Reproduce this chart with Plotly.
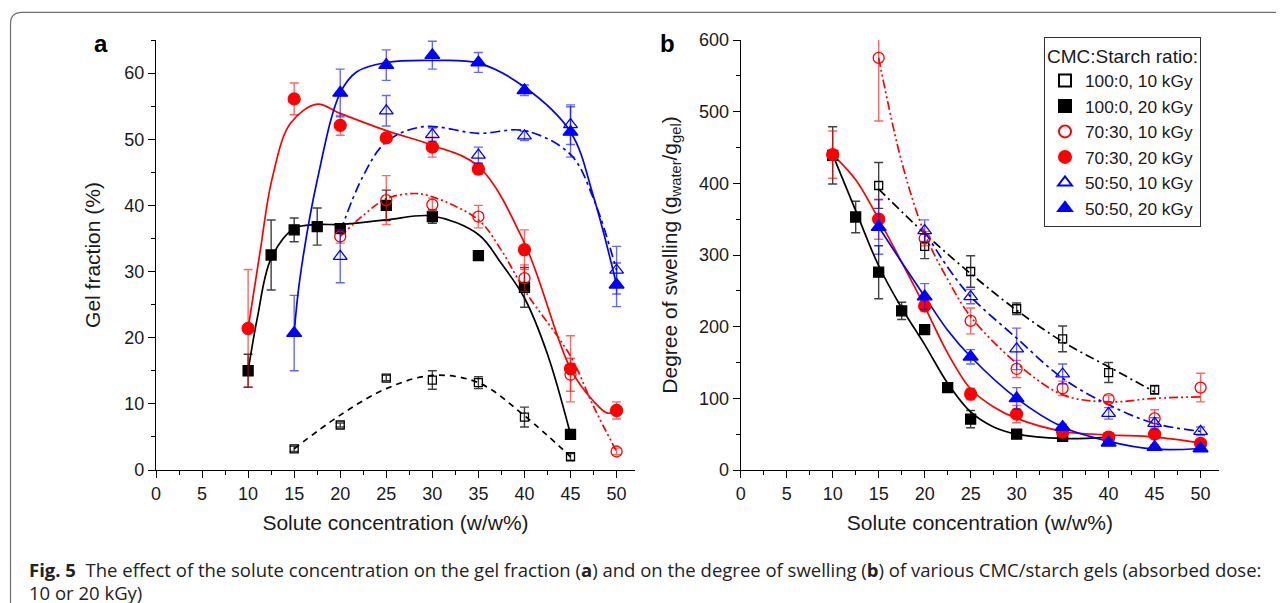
import plotly.graph_objects as go

W, H = 1284, 603
PAGE_OFFSET = 8  # the page body margin shifts the figure by this many pixels

# ---- panel a: gel fraction (%) ----
gel_x_100_10 = [15, 20, 25, 30, 35, 40, 45]
gel_y_100_10 = [3.2, 6.8, 13.9, 13.6, 13.2, 8.0, 2.0]
gel_e_100_10 = [0.4, 0.3, 0.4, 1.4, 0.9, 1.5, 0.5]

gel_x_100_20 = [10, 12.5, 15, 17.5, 20, 25, 30, 35, 40, 45]
gel_y_100_20 = [15.0, 32.5, 36.3, 36.8, 36.5, 40.0, 38.3, 32.4, 27.6, 5.4]
gel_e_100_20 = [2.5, 5.3, 1.8, 2.8, 0.6, 2.3, 1.0, 0, 3.0, 0]

gel_x_70_10 = [20, 25, 30, 35, 40, 45, 50]
gel_y_70_10 = [35.3, 40.8, 40.1, 38.3, 29.0, 14.4, 2.8]
gel_e_70_10 = [1.0, 3.7, 1.0, 1.7, 2.0, 2.5, 0.5]

gel_x_70_20 = [10, 15, 20, 25, 30, 35, 40, 45, 50]
gel_y_70_20 = [21.4, 56.1, 52.1, 50.2, 48.8, 45.5, 33.3, 15.3, 9.0]
gel_e_70_20 = [8.9, 2.4, 1.5, 0.6, 1.5, 0.8, 3.0, 5.0, 1.3]

gel_x_50_10 = [20, 25, 30, 35, 40, 45, 50]
gel_y_50_10 = [32.3, 54.3, 50.7, 47.6, 50.5, 52.2, 30.2]
gel_e_50_10 = [4.0, 2.3, 1.0, 1.2, 0.7, 3.0, 3.6]

gel_x_50_20 = [15, 20, 25, 30, 35, 40, 45, 50]
gel_y_50_20 = [20.7, 57.0, 61.2, 62.7, 61.6, 57.4, 51.1, 28.0]
gel_e_50_20 = [5.7, 3.6, 2.3, 2.1, 1.5, 0.8, 3.8, 3.3]

# fitted curves
gel_fx_100_10 = [15, 20, 25, 30, 35, 40, 45]
gel_fy_100_10 = [3.2, 8.3, 12.3, 14.3, 13.2, 8.2, 2.0]
gel_fx_100_20 = [10, 11, 12.5, 15, 17.5, 20, 25, 30, 35, 37.5, 40, 42.5, 45]
gel_fy_100_20 = [15.0, 23.0, 32.0, 36.5, 37.1, 37.1, 37.8, 38.4, 35.6, 31.2, 26.0, 17.5, 5.4]
gel_fx_70_10 = [20, 22.5, 25, 28, 30, 35, 37.5, 40, 45, 47.5, 50]
gel_fy_70_10 = [35.3, 38.5, 41.0, 41.8, 41.3, 37.8, 33.2, 27.2, 17.2, 9.6, 2.8]
gel_fx_70_20 = [10, 11.3, 12.6, 14.6, 17.5, 20, 25, 30, 35, 40, 45, 47.5, 49, 50]
gel_fy_70_20 = [21.4, 33.0, 44.0, 52.4, 55.3, 53.9, 51.3, 49.1, 45.9, 34.3, 15.3, 10.4, 8.6, 9.0]
gel_fx_50_10 = [20, 22.5, 25, 29, 35, 40, 45, 47.5, 50]
gel_fy_50_10 = [36.0, 44.5, 49.6, 51.9, 50.9, 51.3, 47.7, 41.0, 30.2]
gel_fx_50_20 = [15, 15.6, 17.5, 20, 21.8, 25, 30, 35, 40, 45, 47.5, 50]
gel_fy_50_20 = [20.7, 28.7, 43.8, 57.0, 60.2, 61.6, 61.9, 61.5, 57.9, 51.1, 41.3, 28.0]

# ---- panel b: degree of swelling ----
sw_x_100_10 = [15, 20, 25, 30, 35, 40, 45]
sw_y_100_10 = [397, 312, 277, 225, 183, 136, 112]
sw_e_100_10 = [32, 17, 22, 8, 18, 14, 6]

sw_x_100_20 = [10, 12.5, 15, 17.5, 20, 22.5, 25, 30, 35, 40]
sw_y_100_20 = [439, 353, 276, 222, 196, 115, 71, 50, 47, 44]
sw_e_100_20 = [40, 22, 37, 12, 0, 3, 12, 3, 3, 3]

sw_x_70_10 = [15, 20, 25, 30, 35, 40, 45, 50]
sw_y_70_10 = [575, 323, 208, 141, 114, 99, 72, 115]
sw_e_70_10 = [88, 10, 18, 12, 10, 5, 12, 20]

sw_x_70_20 = [10, 15, 20, 25, 30, 35, 40, 45, 50]
sw_y_70_20 = [440, 350, 229, 106, 78, 53, 46, 50, 37]
sw_e_70_20 = [33, 28, 8, 8, 12, 4, 3, 3, 4]

sw_x_50_10 = [20, 25, 30, 35, 40, 45, 50]
sw_y_50_10 = [334, 242, 169, 134, 79, 65, 54]
sw_e_50_10 = [15, 10, 29, 14, 8, 8, 6]

sw_x_50_20 = [15, 20, 25, 30, 35, 40, 45, 50]
sw_y_50_20 = [339, 242, 158, 100, 60, 38, 32, 30]
sw_e_50_20 = [38, 18, 10, 15, 4, 4, 3, 3]

sw_fx_100_10 = [15, 20, 25, 30, 35, 40, 45]
sw_fy_100_10 = [392, 330, 274, 223, 179, 144, 109]
sw_fx_100_20 = [10, 12.5, 15, 17.5, 20, 22.5, 25, 27.5, 30, 35, 40]
sw_fy_100_20 = [440, 362, 285, 226, 175, 121, 81, 60, 50, 44, 46]
sw_fx_70_10 = [15, 17.5, 20, 22.5, 25, 30, 35, 40, 45, 50]
sw_fy_70_10 = [575, 430, 330, 266, 214, 149, 105, 95, 100, 102]
sw_fx_70_20 = [10, 12.5, 15, 17.5, 20, 22.5, 25, 27.5, 30, 35, 40, 45, 50]
sw_fy_70_20 = [440, 405, 350, 290, 228, 163, 113, 88, 72, 54, 49, 46, 38]
sw_fx_50_10 = [20, 22.5, 25, 30, 35, 40, 45, 50]
sw_fy_50_10 = [333, 283, 242, 184, 128, 91, 65, 54]
sw_fx_50_20 = [15, 17.5, 20, 22.5, 25, 30, 35, 40, 45, 50]
sw_fy_50_20 = [339, 290, 242, 195, 158, 100, 60, 40, 29, 30]

x_ticks = [0, 5, 10, 15, 20, 25, 30, 35, 40, 45, 50]
gel_ticks = [0, 10, 20, 30, 40, 50, 60]
sw_ticks = [0, 100, 200, 300, 400, 500, 600]

LEGEND_NAMES = ["100:0, 10 kGy", "100:0, 20 kGy", "70:30, 10 kGy",
                "70:30, 20 kGy", "50:50, 10 kGy", "50:50, 20 kGy"]

BLACK = "#000000"
RED = "#ff0000"
BLUE = "#0000ff"
ERR = {BLACK: "rgba(0,0,0,0.75)", RED: "rgba(255,0,0,0.6)", BLUE: "rgba(0,0,255,0.6)"}
FONT = "Liberation Sans, Arial, sans-serif"
TEXT = "#1a1a1a"

STYLES = [
    # color, symbol, size, dash for panel a, dash for panel b
    (BLACK, "square-open", 8, "6px,5px", "9px,4px,2px,4px"),
    (BLACK, "square", 10, "solid", "solid"),
    (RED, "circle-open", 11, "8px,3px,2px,3px,2px,3px", "9px,3px,2px,3px,2px,3px"),
    (RED, "circle", 12, "solid", "solid"),
    (BLUE, "triangle-up-open", 12, "10px,4px,3px,4px", "10px,4px,3px,4px"),
    (BLUE, "triangle-up", 13, "solid", "solid"),
]

gel_series = [
    (gel_x_100_10, gel_y_100_10, gel_e_100_10, gel_fx_100_10, gel_fy_100_10),
    (gel_x_100_20, gel_y_100_20, gel_e_100_20, gel_fx_100_20, gel_fy_100_20),
    (gel_x_70_10, gel_y_70_10, gel_e_70_10, gel_fx_70_10, gel_fy_70_10),
    (gel_x_70_20, gel_y_70_20, gel_e_70_20, gel_fx_70_20, gel_fy_70_20),
    (gel_x_50_10, gel_y_50_10, gel_e_50_10, gel_fx_50_10, gel_fy_50_10),
    (gel_x_50_20, gel_y_50_20, gel_e_50_20, gel_fx_50_20, gel_fy_50_20),
]
sw_series = [
    (sw_x_100_10, sw_y_100_10, sw_e_100_10, sw_fx_100_10, sw_fy_100_10),
    (sw_x_100_20, sw_y_100_20, sw_e_100_20, sw_fx_100_20, sw_fy_100_20),
    (sw_x_70_10, sw_y_70_10, sw_e_70_10, sw_fx_70_10, sw_fy_70_10),
    (sw_x_70_20, sw_y_70_20, sw_e_70_20, sw_fx_70_20, sw_fy_70_20),
    (sw_x_50_10, sw_y_50_10, sw_e_50_10, sw_fx_50_10, sw_fy_50_10),
    (sw_x_50_20, sw_y_50_20, sw_e_50_20, sw_fx_50_20, sw_fy_50_20),
]

fig = go.Figure()

# fitted curves first so markers sit on top
for panel, series, xa, ya in [(0, gel_series, "x", "y"), (1, sw_series, "x2", "y2")]:
    for (color, symbol, size, dash_a, dash_b), s in zip(STYLES, series):
        fig.add_trace(go.Scatter(
            x=s[3], y=s[4], mode="lines", xaxis=xa, yaxis=ya,
            line=dict(color=color, width=1.7, shape="spline", smoothing=1.0,
                      dash=dash_a if panel == 0 else dash_b),
            showlegend=False, hoverinfo="skip",
        ))

for panel, series, xa, ya in [(0, gel_series, "x", "y"), (1, sw_series, "x2", "y2")]:
    for name, (color, symbol, size, _, _), s in zip(LEGEND_NAMES, STYLES, series):
        fig.add_trace(go.Scatter(
            x=s[0], y=s[1], mode="markers", name=name, xaxis=xa, yaxis=ya,
            marker=dict(symbol=symbol, size=size, color=color,
                        line=dict(color=color, width=1.3)),
            error_y=dict(type="data", array=s[2], visible=True,
                         color=ERR[color], thickness=1.4, width=4.5),
            showlegend=(panel == 1), cliponaxis=False,
        ))


def px_x(v):
    """Page pixel x to paper fraction."""
    return (v - PAGE_OFFSET) / W


def px_y(v):
    """Page pixel y (from top) to paper fraction."""
    return 1 - (v - PAGE_OFFSET) / H


axis_common = dict(
    showline=True, linecolor=BLACK, linewidth=1.3, mirror=False,
    ticks="outside", ticklen=7, tickwidth=1.3, tickcolor=BLACK,
    showgrid=False, zeroline=False, automargin=False,
    tickfont=dict(family=FONT, size=18, color=TEXT),
    minor=dict(ticks="outside", ticklen=4, tickwidth=1.2, tickcolor=BLACK, showgrid=False),
)

fig.update_layout(
    width=W, height=H,
    margin=dict(l=0, r=0, t=0, b=0, autoexpand=False),
    paper_bgcolor="white", plot_bgcolor="white",
    font=dict(family=FONT, color=TEXT),
    xaxis=dict(domain=[px_x(156), px_x(635)], range=[0, 52], tickvals=x_ticks,
               minor_dtick=2.5, anchor="y",
               title=dict(text="Solute concentration (w/w%)", font=dict(size=21), standoff=12),
               **axis_common),
    yaxis=dict(domain=[px_y(470), px_y(40)], range=[0, 65], tickvals=gel_ticks,
               minor_dtick=5, anchor="x",
               title=dict(text="Gel fraction (%)", font=dict(size=21), standoff=17),
               **axis_common),
    xaxis2=dict(domain=[px_x(740.7), px_x(1219)], range=[0, 52], tickvals=x_ticks,
                minor_dtick=2.5, anchor="y2",
                title=dict(text="Solute concentration (w/w%)", font=dict(size=21), standoff=12),
                **axis_common),
    yaxis2=dict(domain=[px_y(470), px_y(40)], range=[0, 600], tickvals=sw_ticks,
                minor_dtick=50, anchor="x2",
                title=dict(text="Degree of swelling (g<sub>water</sub>/g<sub>gel</sub>)",
                           font=dict(size=21), standoff=15),
                **axis_common),
    legend=dict(
        x=px_x(1044), y=px_y(37), xanchor="left", yanchor="top",
        bgcolor="white", bordercolor="#333333", borderwidth=1,
        font=dict(family=FONT, size=17.3, color=TEXT),
        title=dict(text="CMC:Starch ratio:", font=dict(family=FONT, size=19, color=TEXT)),
        tracegroupgap=0, itemsizing="constant",
    ),
)

# panel letters
for letter, xpos in [("a", 101.5), ("b", 668)]:
    fig.add_annotation(text=f"<b>{letter}</b>", x=px_x(xpos), y=px_y(44),
                       xref="paper", yref="paper", showarrow=False,
                       xanchor="center", yanchor="middle",
                       font=dict(family=FONT, size=24, color=BLACK))

# caption
CAP_FONT = "Open Sans, Noto Sans, sans-serif"
fig.add_annotation(
    text="<b>Fig. 5</b>  The effect of the solute concentration on the gel fraction (<b>a</b>) "
         "and on the degree of swelling (<b>b</b>) of various CMC/starch gels (absorbed dose:",
    x=px_x(27), y=px_y(569), xref="paper", yref="paper", showarrow=False,
    xanchor="left", yanchor="middle", font=dict(family=CAP_FONT, size=18.5, color="#222222"))
fig.add_annotation(
    text="10 or 20 kGy)",
    x=px_x(27), y=px_y(592), xref="paper", yref="paper", showarrow=False,
    xanchor="left", yanchor="middle", font=dict(family=CAP_FONT, size=18.5, color="#222222"))

# frame around the figure (top and left edges with rounded corner)
fig.add_shape(
    type="path", xref="paper", yref="paper",
    path=(f"M {px_x(1300)} {px_y(12.3)} L {px_x(22)} {px_y(12.3)} "
          f"Q {px_x(10.5)} {px_y(12.3)} {px_x(10.5)} {px_y(24)} L {px_x(10.5)} {px_y(620)}"),
    line=dict(color="#707070", width=1.2),
)

fig.write_html("out.html")
